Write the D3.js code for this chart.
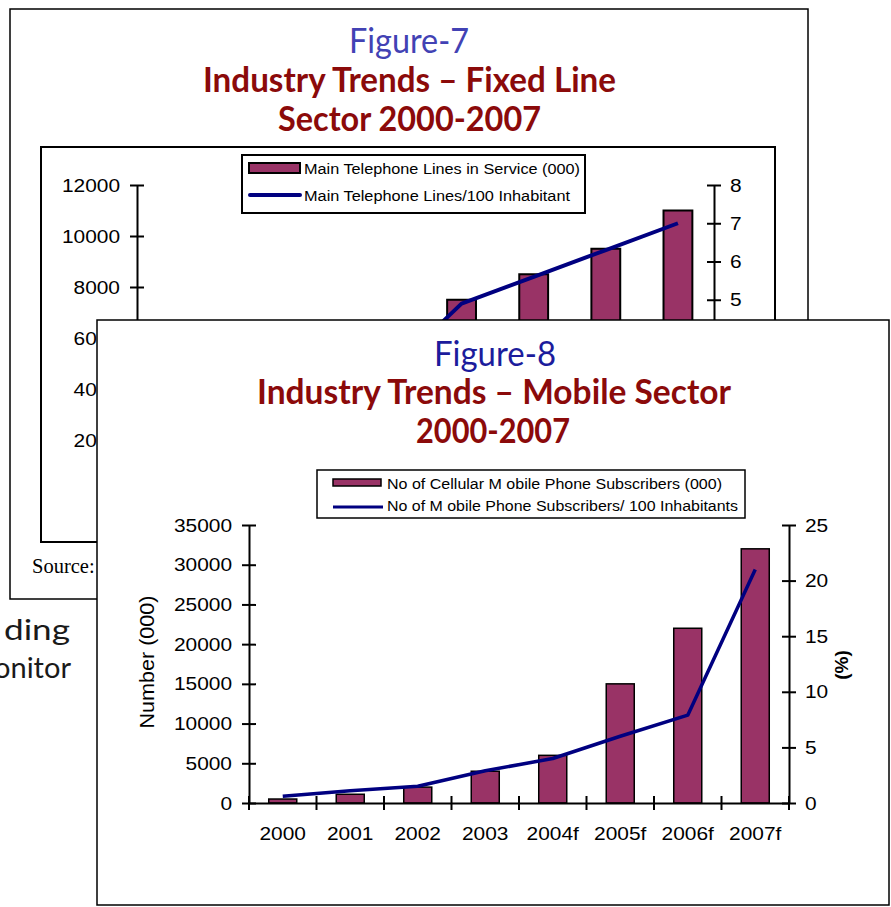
<!DOCTYPE html>
<html><head><meta charset="utf-8">
<script src="https://cdn.jsdelivr.net/npm/d3@7"></script>
<style>body{margin:0;background:#fff}svg{display:block}</style>
</head><body><svg id="c" width="891" height="907"></svg>
<script>
// ---------- Figure-7 data (fixed line) ----------
const years7 = ["2000","2001","2002","2003","2004","2005","2006","2007"];
const fixedLines = [3100, 3300, 3500, 4000, 7500, 8500, 9500, 11000];
const fixedPer100 = [2.2, 2.3, 2.4, 3.1, 4.9, 5.6, 6.3, 7.0];
const fixedLeftTicks = [0, 2000, 4000, 6000, 8000, 10000, 12000];
const fixedRightTicks = [0, 1, 2, 3, 4, 5, 6, 7, 8];
const fixedLegend = ["Main Telephone Lines in Service (000)", "Main Telephone Lines/100 Inhabitant"];

// ---------- Figure-8 data (mobile) ----------
const years8 = ["2000","2001","2002","2003","2004f","2005f","2006f","2007f"];
const mobileSubs = [500, 1100, 2000, 4000, 6000, 15000, 22000, 32000];
const mobilePer100 = [0.6, 1.1, 1.5, 2.9, 4.0, 6.0, 7.9, 21.0];
const mobileLeftTicks = [0, 5000, 10000, 15000, 20000, 25000, 30000, 35000];
const mobileRightTicks = [0, 5, 10, 15, 20, 25];
const mobileLegend = ["No of Cellular M obile Phone Subscribers (000)", "No of M obile Phone Subscribers/ 100 Inhabitants"];

const BAR = "#993366", LINE = "#000080";
const SANS = "'Liberation Sans', Arial, sans-serif";
const TITLE = "Lato, 'Liberation Sans', sans-serif";
const K = 1.1; // horizontal stretch of axis text

const svg = d3.select("#c");
svg.append("rect").attr("width", 891).attr("height", 907).attr("fill", "#fff");

function stretchText(sel, k) {
  sel.each(function() {
    const t = d3.select(this);
    const x = +t.attr("x") || 0;
    t.attr("x", x / k).attr("transform", `scale(${k},1)`);
  });
}

function vAxis(g, scale, ticks, x, side, fs) {
  const ax = (side === "left" ? d3.axisLeft(scale) : d3.axisRight(scale))
    .tickValues(ticks).tickSizeInner(7).tickSizeOuter(0).tickPadding(side === "left" ? 10 : 9)
    .tickFormat(d3.format("d"));
  const a = g.append("g").attr("transform", `translate(${x},0)`).call(ax);
  a.select(".domain").attr("stroke", "#000").attr("stroke-width", 2);
  a.selectAll(".tick line").attr("stroke", "#000").attr("stroke-width", 2);
  a.selectAll(".tick").append("line").attr("x2", side === "left" ? 7 : -7)
    .attr("stroke", "#000").attr("stroke-width", 2);
  a.selectAll(".tick text").attr("font-family", SANS).attr("font-size", fs).attr("fill", "#000");
  stretchText(a.selectAll(".tick text"), K);
  return a;
}

function titleText(g, txt, cx, y, len, size, color, weight) {
  g.append("text").attr("x", cx - len / 2).attr("y", y)
    .attr("textLength", len).attr("lengthAdjust", "spacingAndGlyphs")
    .attr("font-family", TITLE).attr("font-size", size).attr("font-weight", weight)
    .attr("fill", color).text(txt);
}

// ================= FIGURE 7 =================
const f7 = svg.append("g");
f7.append("rect").attr("x", 10).attr("y", 9).attr("width", 798).attr("height", 590)
  .attr("fill", "#fff").attr("stroke", "#000").attr("stroke-width", 1.5);
titleText(f7, "Figure-7", 409, 53, 120, 34, "#4242b4", 400);
titleText(f7, "Industry Trends \u2013 Fixed Line", 409.5, 92, 413, 34, "#8b0a0a", 700);
titleText(f7, "Sector 2000-2007", 409.5, 131, 263, 34, "#8b0a0a", 700);
f7.append("rect").attr("x", 41).attr("y", 147).attr("width", 734).attr("height", 395)
  .attr("fill", "#fff").attr("stroke", "#000").attr("stroke-width", 2);

const x7 = d3.scaleBand().domain(years7).range([137, 714]).paddingInner(0.6).paddingOuter(0.3);
const yL7 = d3.scaleLinear().domain([0, 12000]).range([491, 185]);
const yR7 = d3.scaleLinear().domain([0, 8]).range([491, 185]);

f7.append("g").selectAll("rect").data(years7).join("rect")
  .attr("x", d => x7(d)).attr("width", x7.bandwidth())
  .attr("y", (d, i) => yL7(fixedLines[i])).attr("height", (d, i) => yL7(0) - yL7(fixedLines[i]))
  .attr("fill", BAR).attr("stroke", "#000").attr("stroke-width", 2);

// x axis of figure 7 (lies under figure 8; labels are not visible in the picture)
const ax7 = f7.append("g").attr("transform", "translate(0,491)")
  .call(d3.axisBottom(x7).tickSize(0));
ax7.select(".domain").attr("stroke", "#000").attr("stroke-width", 2);
ax7.selectAll(".tick text").remove();

vAxis(f7, yL7, fixedLeftTicks, 137, "left", 19);
const r7 = vAxis(f7, yR7, fixedRightTicks, 714, "right", 19);
r7.selectAll(".tick").filter(d => yR7(d) > 320).select("text").remove();

f7.append("path").datum(years7)
  .attr("d", d3.line().x(d => x7(d) + x7.bandwidth() / 2).y((d, i) => yR7(fixedPer100[i])))
  .attr("fill", "none").attr("stroke", LINE).attr("stroke-width", 4).attr("stroke-linejoin", "round");

// legend 7
const lg7 = f7.append("g");
lg7.append("rect").attr("x", 242).attr("y", 155).attr("width", 343).attr("height", 58)
  .attr("fill", "#fff").attr("stroke", "#000").attr("stroke-width", 2);
lg7.append("rect").attr("x", 249).attr("y", 163).attr("width", 51).attr("height", 10)
  .attr("fill", BAR).attr("stroke", "#000").attr("stroke-width", 2);
lg7.append("line").attr("x1", 250).attr("x2", 300).attr("y1", 195).attr("y2", 195)
  .attr("stroke", LINE).attr("stroke-width", 4).attr("stroke-linecap", "round");
[[fixedLegend[0], 174, 276], [fixedLegend[1], 201, 266]].forEach(([t, y, w]) => {
  lg7.append("text").attr("x", 304).attr("y", y).attr("textLength", w).attr("lengthAdjust", "spacingAndGlyphs")
    .attr("font-family", SANS).attr("font-size", 14).attr("fill", "#000").text(t);
});

f7.append("text").attr("x", 32).attr("y", 573).attr("font-family", "'Liberation Serif', 'Times New Roman', serif")
  .attr("font-size", 20.5).attr("fill", "#000").text("Source:");

// background document text
svg.append("text").attr("x", 4).attr("y", 640).attr("textLength", 66).attr("lengthAdjust", "spacingAndGlyphs")
  .attr("font-family", TITLE).attr("font-weight", 400).attr("font-size", 29).attr("fill", "#1a1a1a").text("ding");
svg.append("text").attr("x", -6).attr("y", 678).attr("textLength", 77).attr("lengthAdjust", "spacingAndGlyphs")
  .attr("font-family", TITLE).attr("font-weight", 400).attr("font-size", 29).attr("fill", "#1a1a1a").text("onitor");

// ================= FIGURE 8 =================
const f8 = svg.append("g");
f8.append("rect").attr("x", 97).attr("y", 320).attr("width", 792).attr("height", 585)
  .attr("fill", "#fff").attr("stroke", "#000").attr("stroke-width", 1.5);
titleText(f8, "Figure-8", 495, 366, 122, 34, "#1c1c9c", 400);
titleText(f8, "Industry Trends \u2013 Mobile Sector", 494, 404, 474, 34, "#8b0a0a", 700);
titleText(f8, "2000-2007", 493, 443, 154, 34, "#8b0a0a", 700);

const x8 = d3.scaleBand().domain(years8).range([249, 789]).paddingInner(0.585).paddingOuter(0.2925);
const yL8 = d3.scaleLinear().domain([0, 35000]).range([803, 525]);
const yR8 = d3.scaleLinear().domain([0, 25]).range([803, 525]);

f8.append("g").selectAll("rect").data(years8).join("rect")
  .attr("x", d => x8(d)).attr("width", x8.bandwidth())
  .attr("y", (d, i) => yL8(mobileSubs[i])).attr("height", (d, i) => yL8(0) - yL8(mobileSubs[i]))
  .attr("fill", BAR).attr("stroke", "#000").attr("stroke-width", 1.5);

// x axis
const ax8 = f8.append("g").attr("transform", "translate(0,803)")
  .call(d3.axisBottom(x8).tickSize(0).tickPadding(0));
ax8.select(".domain").attr("stroke", "#000").attr("stroke-width", 2);
ax8.selectAll(".tick text").attr("font-family", SANS).attr("font-size", 19).attr("fill", "#000")
  .attr("y", 37).attr("dy", 0);
stretchText(ax8.selectAll(".tick text"), K);
const bounds8 = years8.map(d => x8(d) - x8.step() * x8.paddingInner() / 2).concat([789]);
ax8.selectAll("line.bt").data(bounds8).join("line").attr("class", "bt")
  .attr("x1", d => d).attr("x2", d => d).attr("y1", -7).attr("y2", 7)
  .attr("stroke", "#000").attr("stroke-width", 2);

vAxis(f8, yL8, mobileLeftTicks, 249, "left", 19);
vAxis(f8, yR8, mobileRightTicks, 789, "right", 19);

f8.append("path").datum(years8)
  .attr("d", d3.line().x(d => x8(d) + x8.bandwidth() / 2).y((d, i) => yR8(mobilePer100[i])))
  .attr("fill", "none").attr("stroke", LINE).attr("stroke-width", 3.5).attr("stroke-linejoin", "round");

f8.append("text").attr("transform", "translate(154,662) rotate(-90)").attr("text-anchor", "middle")
  .attr("textLength", 133).attr("lengthAdjust", "spacingAndGlyphs")
  .attr("font-family", SANS).attr("font-size", 19.5).attr("fill", "#000").text("Number (000)");
f8.append("text").attr("transform", "translate(848,665) rotate(-90)").attr("text-anchor", "middle")
  .attr("font-family", SANS).attr("font-size", 19).attr("font-weight", 700).attr("fill", "#000").text("(%)");

// legend 8
const lg8 = f8.append("g");
lg8.append("rect").attr("x", 317).attr("y", 470).attr("width", 428).attr("height", 48)
  .attr("fill", "#fff").attr("stroke", "#000").attr("stroke-width", 1.5);
lg8.append("rect").attr("x", 333).attr("y", 479).attr("width", 48).attr("height", 7)
  .attr("fill", BAR).attr("stroke", "#000").attr("stroke-width", 1.5);
lg8.append("line").attr("x1", 333).attr("x2", 383).attr("y1", 507).attr("y2", 507)
  .attr("stroke", LINE).attr("stroke-width", 3);
[[mobileLegend[0], 489, 335], [mobileLegend[1], 511, 351]].forEach(([t, y, w]) => {
  lg8.append("text").attr("x", 387).attr("y", y).attr("textLength", w).attr("lengthAdjust", "spacingAndGlyphs")
    .attr("font-family", SANS).attr("font-size", 14).attr("fill", "#000").text(t);
});
</script></body></html>
